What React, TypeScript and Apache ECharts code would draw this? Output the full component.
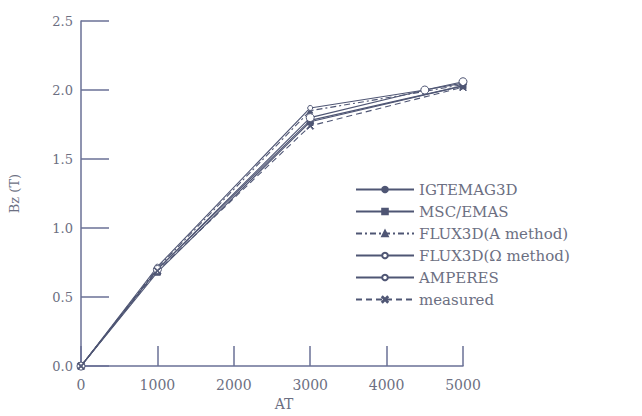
import React, { useEffect, useRef } from "react";
import * as echarts from "echarts";

const xTicks = [0, 1000, 2000, 3000, 4000, 5000];
const yTicks = [0, 0.5, 1.0, 1.5, 2.0, 2.5];

const igtemagAT = [0, 1000, 3000, 5000];
const igtemagB = [0, 0.7, 1.78, 2.03];

const mscAT = [0, 1000, 3000, 5000];
const mscB = [0, 0.68, 1.77, 2.03];

const fluxAAT = [0, 1000, 3000, 4500, 5000];
const fluxAB = [0, 0.71, 1.85, 1.99, 2.04];

const fluxOAT = [0, 1000, 3000, 4500, 5000];
const fluxOB = [0, 0.72, 1.87, 2.0, 2.05];

const amperesAT = [0, 1000, 3000, 4500, 5000];
const amperesB = [0, 0.7, 1.8, 2.0, 2.06];

const measuredAT = [0, 1000, 3000, 5000];
const measuredB = [0, 0.69, 1.74, 2.02];

const LINE = "#4f5674";
const AXIS = "#6a7096";
const TEXT = "#6c6f82";
const FONT = "DejaVu Serif";

const crossPath =
  "path://M1,0 L5,4 L9,0 L10,1 L6,5 L10,9 L9,10 L5,6 L1,10 L0,9 L4,5 L0,1 Z";

function pairs(xs: number[], ys: number[]) {
  return xs.map((x, i) => [x, ys[i]]);
}

export default function App() {
  const ref = useRef<HTMLDivElement>(null);
  useEffect(() => {
    if (!ref.current) return;
    const chart = echarts.init(ref.current, undefined, { renderer: "svg" });
    const mk = (
      name: string,
      xs: number[],
      ys: number[],
      symbol: string,
      size: number,
      type: any,
      fill: string
    ) => ({
      name,
      type: "line",
      data: pairs(xs, ys),
      symbol,
      symbolSize: size,
      showAllSymbol: true,
      lineStyle: { color: LINE, width: 1.1, type },
      itemStyle: { color: fill, borderColor: LINE, borderWidth: 1 },
      emphasis: { disabled: true },
    });
    chart.setOption({
      animation: false,
      backgroundColor: "#ffffff",
      grid: { left: 80, right: 179, top: 21, bottom: 47 },
      xAxis: {
        type: "value",
        min: xTicks[0],
        max: xTicks[xTicks.length - 1],
        interval: 1000,
        name: "AT",
        nameLocation: "middle",
        nameGap: 29,
        nameTextStyle: { color: TEXT, fontFamily: FONT, fontSize: 14, padding: [0, 0, 0, 24] },
        axisLine: { show: true, lineStyle: { color: AXIS, width: 1.5 } },
        axisTick: { show: true, inside: true, length: 20, lineStyle: { color: AXIS, width: 1.5 } },
        axisLabel: {
          color: TEXT,
          fontFamily: FONT,
          fontSize: 14,
          margin: 12,
          formatter: (v: number) => String(v),
        },
        splitLine: { show: false },
      },
      yAxis: {
        type: "value",
        min: yTicks[0],
        max: yTicks[yTicks.length - 1],
        interval: 0.5,
        name: "Bz (T)",
        nameLocation: "middle",
        nameGap: 60,
        nameRotate: 90,
        nameTextStyle: { color: TEXT, fontFamily: FONT, fontSize: 13 },
        axisLine: { show: true, lineStyle: { color: AXIS, width: 1.5 } },
        axisTick: { show: true, inside: true, length: 28, lineStyle: { color: AXIS, width: 1.5 } },
        axisLabel: {
          color: TEXT,
          fontFamily: FONT,
          fontSize: 13,
          margin: 8,
          formatter: (v: number) => v.toFixed(1),
        },
        splitLine: { show: false },
      },
      legend: {
        orient: "vertical",
        left: 350,
        top: 177,
        itemWidth: 58,
        itemHeight: 7,
        itemGap: 7,
        textStyle: { color: TEXT, fontFamily: FONT, fontSize: 15 },
        data: [
          "IGTEMAG3D",
          "MSC/EMAS",
          "FLUX3D(A method)",
          "FLUX3D(Ω method)",
          "AMPERES",
          "measured",
        ],
      },
      series: [
        mk("IGTEMAG3D", igtemagAT, igtemagB, "circle", 4, "solid", LINE),
        mk("MSC/EMAS", mscAT, mscB, "rect", 6, "solid", LINE),
        mk("FLUX3D(A method)", fluxAAT, fluxAB, "triangle", 5, [6, 3, 2, 3], LINE),
        mk("FLUX3D(Ω method)", fluxOAT, fluxOB, "circle", 5, "solid", "#ffffff"),
        mk("AMPERES", amperesAT, amperesB, "circle", 8, "solid", "#ffffff"),
        mk("measured", measuredAT, measuredB, crossPath, 7, [6, 4], LINE),
      ],
    });
    return () => chart.dispose();
  }, []);
  return (
    <div
      ref={ref}
      style={{ position: "fixed", left: 0, top: 0, width: 642, height: 416 }}
    />
  );
}
